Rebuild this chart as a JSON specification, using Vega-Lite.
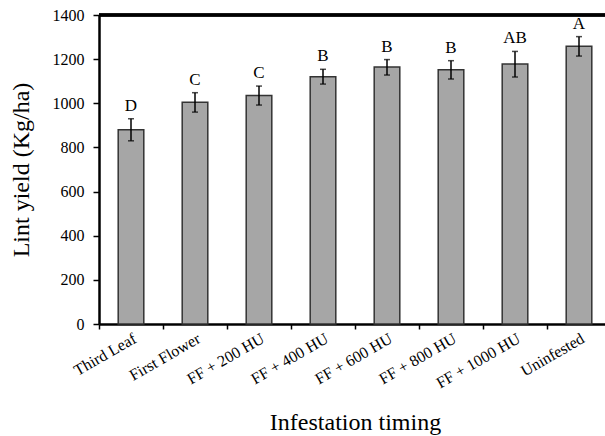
{
  "$schema": "https://vega.github.io/schema/vega-lite/v6.json",
  "autosize": {"type": "none"},
  "width": 506,
  "height": 309,
  "padding": {"left": 99, "top": 15, "right": 0, "bottom": 112},
  "background": "white",
  "config": {"view": {"stroke": null}, "font": "Liberation Serif"},
  "data": {"values": [
    {"timing": "Third Leaf", "yield": 880, "lo": 830, "hi": 930, "grp": "D"},
    {"timing": "First Flower", "yield": 1005, "lo": 960, "hi": 1048, "grp": "C"},
    {"timing": "FF + 200 HU", "yield": 1035, "lo": 992, "hi": 1078, "grp": "C"},
    {"timing": "FF + 400 HU", "yield": 1120, "lo": 1087, "hi": 1154, "grp": "B"},
    {"timing": "FF + 600 HU", "yield": 1164, "lo": 1128, "hi": 1198, "grp": "B"},
    {"timing": "FF + 800 HU", "yield": 1152, "lo": 1110, "hi": 1193, "grp": "B"},
    {"timing": "FF + 1000 HU", "yield": 1178, "lo": 1119, "hi": 1235, "grp": "AB"},
    {"timing": "Uninfested", "yield": 1258, "lo": 1214, "hi": 1302, "grp": "A"}
  ]},
  "layer": [
    {
      "mark": {"type": "bar", "width": {"band": 0.4}, "fill": "#a6a6a6", "stroke": "#333333", "strokeWidth": 1.5},
      "encoding": {
        "x": {
          "field": "timing", "type": "nominal", "sort": null,
          "scale": {"range": [0, 512], "paddingInner": 0, "paddingOuter": 0},
          "axis": {
            "title": "Infestation timing", "titleFont": "Liberation Serif", "titleFontSize": 24, "titleFontWeight": "normal", "titleColor": "black", "titlePadding": 20,
            "labelFont": "Liberation Serif", "labelFontSize": 16, "labelColor": "black", "labelAngle": -30, "labelAlign": "right", "labelBaseline": "top", "labelPadding": 1,
            "bandPosition": 0, "tickSize": 5, "tickColor": "black", "tickWidth": 1.5,
            "domainColor": "black", "domainWidth": 2.5, "grid": false
          }
        },
        "y": {
          "field": "yield", "type": "quantitative",
          "scale": {"domain": [0, 1400], "nice": false, "zero": true},
          "axis": {
            "title": "Lint yield (Kg/ha)", "titleFont": "Liberation Serif", "titleFontSize": 24, "titleFontWeight": "normal", "titleColor": "black", "titlePadding": 19,
            "values": [0, 200, 400, 600, 800, 1000, 1200, 1400], "format": "d",
            "labelFont": "Liberation Serif", "labelFontSize": 16, "labelColor": "black", "labelPadding": 9,
            "tickSize": 6, "tickColor": "black", "tickWidth": 1.5,
            "domainColor": "black", "domainWidth": 2.5, "grid": false
          }
        }
      }
    },
    {
      "mark": {"type": "rule", "color": "black", "strokeWidth": 1.5},
      "encoding": {
        "x": {"field": "timing", "type": "nominal", "sort": null},
        "y": {"field": "lo", "type": "quantitative"}, "y2": {"field": "hi"}
      }
    },
    {
      "mark": {"type": "tick", "color": "black", "thickness": 1.5, "size": 6, "orient": "horizontal"},
      "encoding": {
        "x": {"field": "timing", "type": "nominal", "sort": null},
        "y": {"field": "lo", "type": "quantitative"}
      }
    },
    {
      "mark": {"type": "tick", "color": "black", "thickness": 1.5, "size": 6, "orient": "horizontal"},
      "encoding": {
        "x": {"field": "timing", "type": "nominal", "sort": null},
        "y": {"field": "hi", "type": "quantitative"}
      }
    },
    {
      "mark": {"type": "text", "baseline": "bottom", "dy": -4, "font": "Liberation Serif", "fontSize": 17, "color": "black"},
      "encoding": {
        "x": {"field": "timing", "type": "nominal", "sort": null},
        "y": {"field": "hi", "type": "quantitative"},
        "text": {"field": "grp"}
      }
    },
    {
      "mark": {"type": "rule", "color": "black", "strokeWidth": 2.5},
      "encoding": {"y": {"datum": 1400}}
    }
  ]
}
